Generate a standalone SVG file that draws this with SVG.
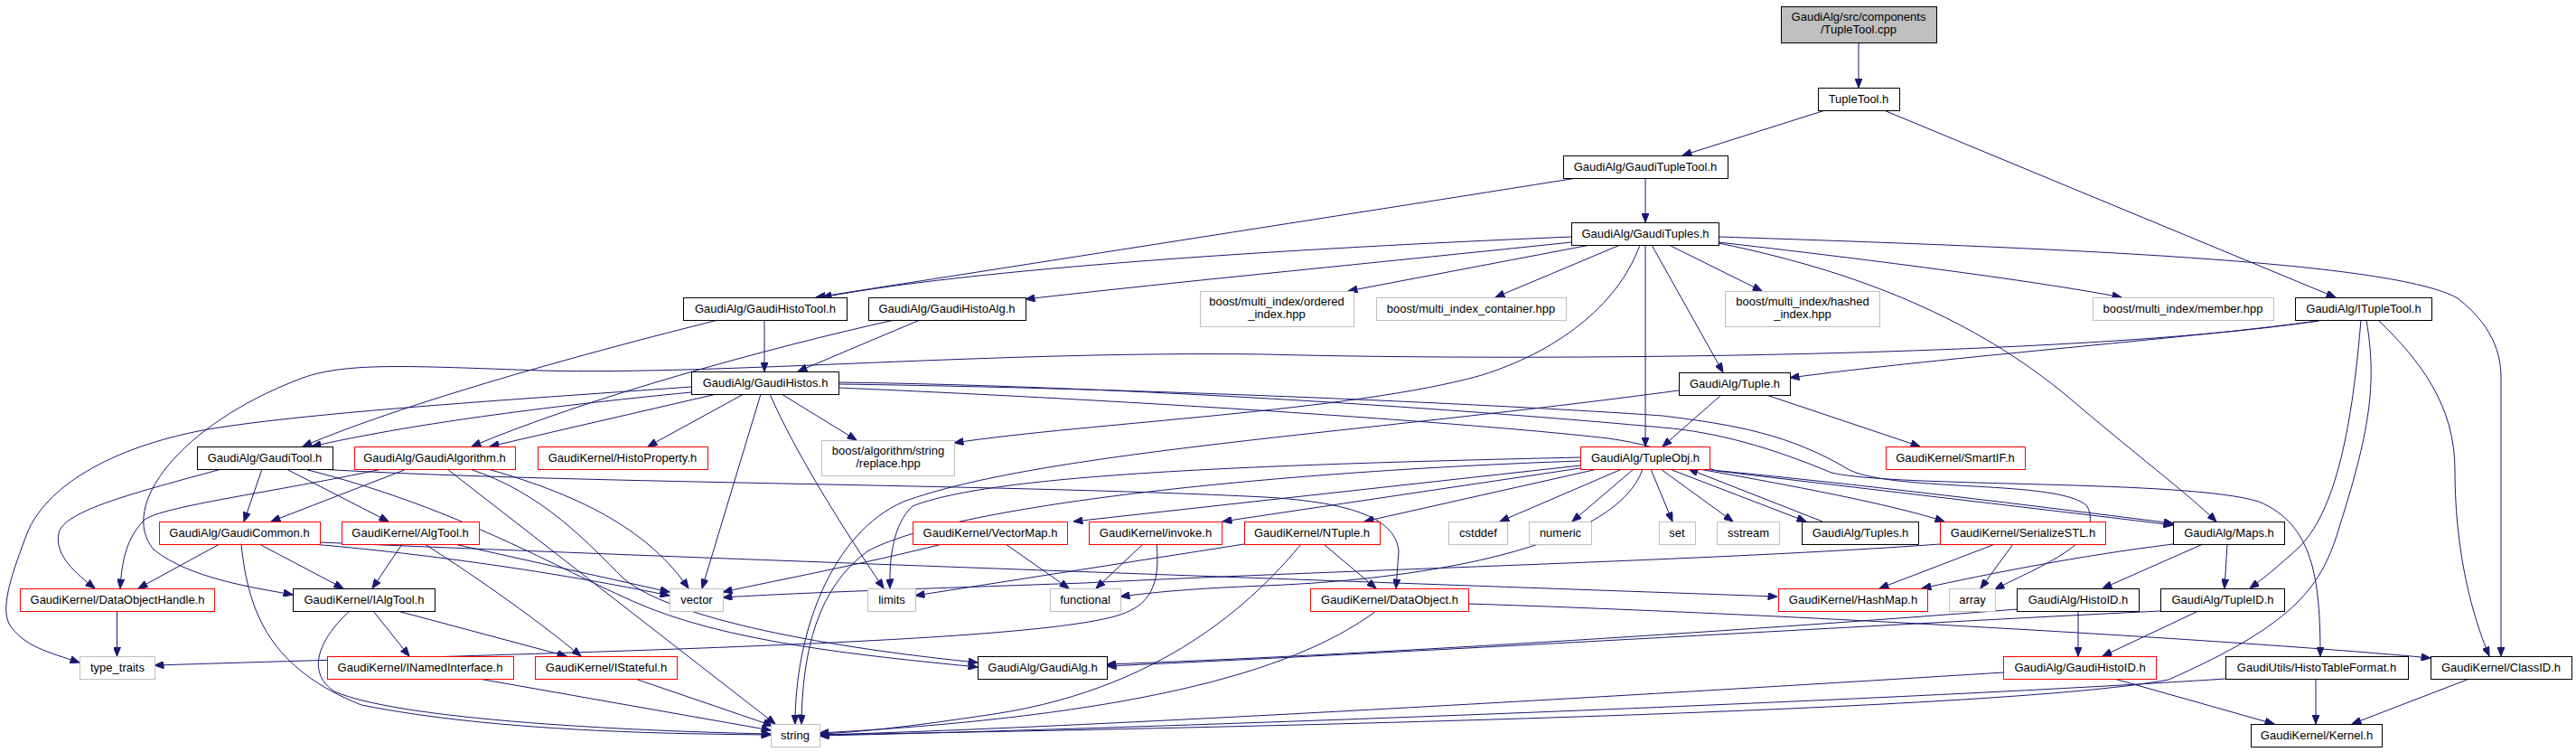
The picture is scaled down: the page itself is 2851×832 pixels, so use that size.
<svg xmlns="http://www.w3.org/2000/svg" width="2851" height="832" viewBox="0 0 2851 832">
<style>
text{font-family:"Liberation Sans",Arial,sans-serif;font-size:13px;fill:#000;text-anchor:middle}
.b{fill:#fff;stroke:#000;stroke-width:1}
.r{fill:#fff;stroke:#ff0000;stroke-width:1}
.g{fill:#fff;stroke:#bfbfbf;stroke-width:1}
.s{fill:#bfbfbf;stroke:#000;stroke-width:1}
#edges path{fill:none;stroke:#191970;stroke-width:1;marker-end:url(#ah)}
</style>
<defs>
<marker id="ah" markerUnits="userSpaceOnUse" viewBox="0 0 10 8" refX="10" refY="4" markerWidth="11" markerHeight="8" orient="auto"><path d="M0,0 L10,4 L0,8 z" fill="#191970" stroke="#191970"/></marker>
</defs>
<rect width="2851" height="832" fill="#fff"/>
<g id="edges">
<path d="M2057,47 L2057,97"/>
<path d="M2020,122 L1862,172"/>
<path d="M2085,122 L2585,329"/>
<path d="M1821,197 L1821,246"/>
<path d="M1745,197 C1500,236 1100,298 903,329"/>
<path d="M1739,262 C1500,272 1100,293 910,329"/>
<path d="M1739,268 C1550,288 1300,312 1135,331"/>
<path d="M1760,271 L1492,322"/>
<path d="M1793,271 L1655,329"/>
<path d="M1847,271 L1950,322"/>
<path d="M1902,268 C2050,285 2250,310 2348,329"/>
<path d="M1821,271 L1821,494"/>
<path d="M1828,271 L1907,412"/>
<path d="M1902,269 C2080,305 2200,365 2290,440 C2360,500 2420,545 2453,577"/>
<path d="M1902,262 C2300,275 2650,290 2720,330 C2765,365 2768,400 2768,420 L2768,726"/>
<path d="M1815,271 C1790,340 1720,390 1640,415 C1500,455 1200,468 1056,490"/>
<path d="M2572,354 C2450,372 2150,395 1981,418"/>
<path d="M2566,355 C2300,395 1700,400 1400,392 C1100,388 800,415 600,410 C450,405 380,400 330,420 C200,470 130,560 170,608 C210,640 280,650 324,658"/>
<path d="M2613,354 C2605,450 2590,560 2545,605 C2520,628 2505,640 2490,651"/>
<path d="M2619,354 C2630,420 2625,470 2590,580 C2570,650 2540,690 2400,752 C2200,790 1200,808 907,813"/>
<path d="M2632,354 C2680,400 2717,450 2717,520 C2717,620 2740,690 2755,726"/>
<path d="M846,354 L846,411"/>
<path d="M795,354 C650,390 450,445 335,494"/>
<path d="M1018,354 L883,411"/>
<path d="M990,354 C850,385 650,440 522,494"/>
<path d="M793,436 L542,494"/>
<path d="M765,434 C600,450 450,470 345,494"/>
<path d="M765,428 C600,440 350,455 230,475 C120,495 50,540 30,590 C15,630 0,670 10,690 C25,715 55,722 88,733"/>
<path d="M823,436 L717,494"/>
<path d="M842,436 L777,651"/>
<path d="M852,436 C880,500 930,580 978,651"/>
<path d="M865,436 L948,487"/>
<path d="M928,429 C1300,445 1650,470 1780,485 C1850,495 1880,515 1900,521 C2100,545 2300,568 2405,581"/>
<path d="M928,423 C1300,428 1700,460 1840,473 C1900,478 1960,495 2027,523 C2100,540 2420,530 2500,555 C2560,580 2568,640 2568,726"/>
<path d="M928,425 C1300,430 1700,450 1840,460 C1920,470 1980,480 2047,520 C2100,545 2280,530 2310,560 C2330,600 2260,625 2208,652"/>
<path d="M1905,437 L1840,494"/>
<path d="M1955,437 L2125,494"/>
<path d="M1858,432 C1500,480 1150,500 1000,555 C920,590 880,700 880,801"/>
<path d="M1749,510 C1400,522 1050,560 960,610 C905,650 888,720 887,801"/>
<path d="M1749,506 C1400,514 1100,524 1010,560 C988,580 984,620 985,651"/>
<path d="M1818,519 C1790,600 1600,640 1400,648 C1320,651 1280,655 1240,660"/>
<path d="M1749,515 L1188,577"/>
<path d="M1749,518 L1353,577"/>
<path d="M1768,519 L1510,577"/>
<path d="M1795,519 L1660,577"/>
<path d="M1808,519 L1740,577"/>
<path d="M1827,519 L1851,577"/>
<path d="M1838,519 L1918,577"/>
<path d="M1848,519 L1999,577"/>
<path d="M2017,577 L1869,519"/>
<path d="M1880,519 C2000,540 2100,560 2152,577"/>
<path d="M1884,519 C2100,540 2300,566 2405,579"/>
<path d="M245,519 C150,545 70,565 65,590 C60,615 85,635 105,651"/>
<path d="M290,519 L270,577"/>
<path d="M317,519 L430,577"/>
<path d="M337,519 C500,560 600,620 700,665 C800,710 950,725 1082,738"/>
<path d="M337,518 C600,535 1100,535 1400,550 C1500,556 1545,575 1548,610 L1545,651"/>
<path d="M423,519 C300,545 180,560 160,575 C140,595 135,620 133,651"/>
<path d="M450,519 L300,577"/>
<path d="M495,519 L858,801"/>
<path d="M520,519 C600,545 650,600 690,640 C750,690 950,720 1082,733"/>
<path d="M540,519 C650,550 720,590 762,651"/>
<path d="M243,602 L153,651"/>
<path d="M287,602 L380,651"/>
<path d="M267,602 C275,680 300,740 400,780 C550,810 750,812 853,813"/>
<path d="M345,602 C500,615 650,640 741,659"/>
<path d="M354,600 C700,615 1400,640 1967,660"/>
<path d="M445,602 L412,651"/>
<path d="M470,602 C530,640 600,690 643,726"/>
<path d="M503,602 L741,655"/>
<path d="M413,676 L453,726"/>
<path d="M387,676 C350,710 340,745 370,765 C450,800 750,810 853,812"/>
<path d="M440,676 L627,726"/>
<path d="M530,751 L853,808"/>
<path d="M703,751 L855,803"/>
<path d="M129.5,676 L129.5,726"/>
<path d="M1280,602 C1285,650 1270,670 1240,680 C1150,710 700,720 171,736"/>
<path d="M1043,602 C950,625 870,640 800,655"/>
<path d="M1113,602 L1183,651"/>
<path d="M1265,602 L1213,651"/>
<path d="M1377,602 L1013,659"/>
<path d="M1440,602 C1400,650 1300,760 1100,790 C1000,805 950,810 907,812"/>
<path d="M1465,602 L1523,651"/>
<path d="M1523,676 C1450,730 1300,790 907,811"/>
<path d="M1625,668 C2000,680 2500,710 2690,728"/>
<path d="M2208,602 L2080,651"/>
<path d="M2228,602 L2192,651"/>
<path d="M2147,602 C1900,620 1500,630 1200,645 C1000,652 880,656 800,661"/>
<path d="M2405,602 C2300,615 2200,635 2127,651"/>
<path d="M2438,602 L2327,651"/>
<path d="M2465,602 L2462,651"/>
<path d="M2233,674 C1900,700 1500,725 1225,735"/>
<path d="M2300,676 L2300,726"/>
<path d="M2391,676 C2100,690 1600,720 1225,737"/>
<path d="M2433,676 L2327,726"/>
<path d="M2217,744 C1800,770 1200,805 907,813"/>
<path d="M2340,751 L2517,801"/>
<path d="M2563,751 L2563,801"/>
<path d="M2463,751 C2100,775 1300,805 907,814"/>
<path d="M2733,751 L2603,801"/>
</g>
<g id="n_cpp"><rect class="s" x="1971.5" y="7.5" width="172" height="40"/><text x="2057" y="23">GaudiAlg/src/components</text><text x="2057" y="37">/TupleTool.cpp</text></g>
<g id="n_TupleTool"><rect class="b" x="2012.5" y="97.5" width="90" height="25"/><text x="2057" y="114">TupleTool.h</text></g>
<g id="n_GaudiTupleTool"><rect class="b" x="1730.5" y="172.5" width="182" height="25"/><text x="1821" y="189">GaudiAlg/GaudiTupleTool.h</text></g>
<g id="n_GaudiTuples"><rect class="b" x="1739.5" y="246.5" width="163" height="25"/><text x="1821" y="263">GaudiAlg/GaudiTuples.h</text></g>
<g id="n_GaudiHistoTool"><rect class="b" x="756.5" y="329.5" width="181" height="25"/><text x="847" y="346">GaudiAlg/GaudiHistoTool.h</text></g>
<g id="n_GaudiHistoAlg"><rect class="b" x="961.5" y="329.5" width="174" height="25"/><text x="1048" y="346">GaudiAlg/GaudiHistoAlg.h</text></g>
<g id="n_ordered"><rect class="g" x="1328.5" y="322.5" width="170" height="39"/><text x="1413" y="338">boost/multi_index/ordered</text><text x="1413" y="352">_index.hpp</text></g>
<g id="n_container"><rect class="g" x="1523.5" y="329.5" width="210" height="25"/><text x="1628" y="346">boost/multi_index_container.hpp</text></g>
<g id="n_hashed"><rect class="g" x="1909.5" y="322.5" width="171" height="39"/><text x="1995" y="338">boost/multi_index/hashed</text><text x="1995" y="352">_index.hpp</text></g>
<g id="n_member"><rect class="g" x="2316.5" y="329.5" width="200" height="25"/><text x="2416" y="346">boost/multi_index/member.hpp</text></g>
<g id="n_ITupleTool"><rect class="b" x="2540.5" y="329.5" width="151" height="25"/><text x="2616" y="346">GaudiAlg/ITupleTool.h</text></g>
<g id="n_GaudiHistos"><rect class="b" x="765.5" y="411.5" width="163" height="25"/><text x="847" y="428">GaudiAlg/GaudiHistos.h</text></g>
<g id="n_Tuple"><rect class="b" x="1858.5" y="412.5" width="123" height="25"/><text x="1920" y="429">GaudiAlg/Tuple.h</text></g>
<g id="n_GaudiTool"><rect class="b" x="218.5" y="494.5" width="150" height="25"/><text x="293" y="511">GaudiAlg/GaudiTool.h</text></g>
<g id="n_GaudiAlgorithm"><rect class="r" x="392.5" y="494.5" width="178" height="25"/><text x="481" y="511">GaudiAlg/GaudiAlgorithm.h</text></g>
<g id="n_HistoProperty"><rect class="r" x="595.5" y="494.5" width="188" height="25"/><text x="689" y="511">GaudiKernel/HistoProperty.h</text></g>
<g id="n_replace"><rect class="g" x="909.5" y="487.5" width="147" height="39"/><text x="983" y="503">boost/algorithm/string</text><text x="983" y="517">/replace.hpp</text></g>
<g id="n_TupleObj"><rect class="r" x="1749.5" y="494.5" width="143" height="25"/><text x="1821" y="511">GaudiAlg/TupleObj.h</text></g>
<g id="n_SmartIF"><rect class="r" x="2087.5" y="494.5" width="154" height="25"/><text x="2164" y="511">GaudiKernel/SmartIF.h</text></g>
<g id="n_GaudiCommon"><rect class="r" x="176.5" y="577.5" width="178" height="25"/><text x="265" y="594">GaudiAlg/GaudiCommon.h</text></g>
<g id="n_AlgTool"><rect class="r" x="378.5" y="577.5" width="152" height="25"/><text x="454" y="594">GaudiKernel/AlgTool.h</text></g>
<g id="n_VectorMap"><rect class="r" x="1010.5" y="577.5" width="171" height="25"/><text x="1096" y="594">GaudiKernel/VectorMap.h</text></g>
<g id="n_invoke"><rect class="r" x="1205.5" y="577.5" width="147" height="25"/><text x="1279" y="594">GaudiKernel/invoke.h</text></g>
<g id="n_NTuple"><rect class="r" x="1377.5" y="577.5" width="150" height="25"/><text x="1452" y="594">GaudiKernel/NTuple.h</text></g>
<g id="n_cstddef"><rect class="g" x="1603.5" y="577.5" width="65" height="25"/><text x="1636" y="594">cstddef</text></g>
<g id="n_numeric"><rect class="g" x="1692.5" y="577.5" width="69" height="25"/><text x="1727" y="594">numeric</text></g>
<g id="n_set"><rect class="g" x="1836.5" y="577.5" width="40" height="25"/><text x="1856" y="594">set</text></g>
<g id="n_sstream"><rect class="g" x="1900.5" y="577.5" width="69" height="25"/><text x="1935" y="594">sstream</text></g>
<g id="n_Tuples"><rect class="b" x="1994.5" y="577.5" width="129" height="25"/><text x="2059" y="594">GaudiAlg/Tuples.h</text></g>
<g id="n_SerializeSTL"><rect class="r" x="2147.5" y="577.5" width="183" height="25"/><text x="2239" y="594">GaudiKernel/SerializeSTL.h</text></g>
<g id="n_Maps"><rect class="b" x="2405.5" y="577.5" width="123" height="25"/><text x="2467" y="594">GaudiAlg/Maps.h</text></g>
<g id="n_DataObjectHandle"><rect class="r" x="22.5" y="651.5" width="215" height="25"/><text x="130" y="668">GaudiKernel/DataObjectHandle.h</text></g>
<g id="n_IAlgTool"><rect class="b" x="324.5" y="651.5" width="157" height="25"/><text x="403" y="668">GaudiKernel/IAlgTool.h</text></g>
<g id="n_vector"><rect class="g" x="741.5" y="651.5" width="59" height="25"/><text x="771" y="668">vector</text></g>
<g id="n_limits"><rect class="g" x="960.5" y="651.5" width="53" height="25"/><text x="987" y="668">limits</text></g>
<g id="n_functional"><rect class="g" x="1162.5" y="651.5" width="78" height="25"/><text x="1201" y="668">functional</text></g>
<g id="n_DataObject"><rect class="r" x="1450.5" y="651.5" width="175" height="25"/><text x="1538" y="668">GaudiKernel/DataObject.h</text></g>
<g id="n_HashMap"><rect class="r" x="1968.5" y="651.5" width="165" height="25"/><text x="2051" y="668">GaudiKernel/HashMap.h</text></g>
<g id="n_array"><rect class="g" x="2157.5" y="651.5" width="51" height="25"/><text x="2183" y="668">array</text></g>
<g id="n_HistoID"><rect class="b" x="2232.5" y="651.5" width="135" height="25"/><text x="2300" y="668">GaudiAlg/HistoID.h</text></g>
<g id="n_TupleID"><rect class="b" x="2391.5" y="651.5" width="137" height="25"/><text x="2460" y="668">GaudiAlg/TupleID.h</text></g>
<g id="n_type_traits"><rect class="g" x="88.5" y="726.5" width="83" height="25"/><text x="130" y="743">type_traits</text></g>
<g id="n_INamedInterface"><rect class="r" x="362.5" y="726.5" width="206" height="25"/><text x="465" y="743">GaudiKernel/INamedInterface.h</text></g>
<g id="n_IStateful"><rect class="r" x="592.5" y="726.5" width="157" height="25"/><text x="671" y="743">GaudiKernel/IStateful.h</text></g>
<g id="n_GaudiAlg"><rect class="b" x="1082.5" y="726.5" width="143" height="25"/><text x="1154" y="743">GaudiAlg/GaudiAlg.h</text></g>
<g id="n_GaudiHistoID"><rect class="r" x="2217.5" y="726.5" width="169" height="25"/><text x="2302" y="743">GaudiAlg/GaudiHistoID.h</text></g>
<g id="n_HistoTableFormat"><rect class="b" x="2463.5" y="726.5" width="202" height="25"/><text x="2564" y="743">GaudiUtils/HistoTableFormat.h</text></g>
<g id="n_ClassID"><rect class="b" x="2690.5" y="726.5" width="156" height="25"/><text x="2768" y="743">GaudiKernel/ClassID.h</text></g>
<g id="n_string"><rect class="g" x="853.5" y="801.5" width="54" height="25"/><text x="880" y="818">string</text></g>
<g id="n_Kernel"><rect class="b" x="2491.5" y="801.5" width="145" height="25"/><text x="2564" y="818">GaudiKernel/Kernel.h</text></g>
</svg>
